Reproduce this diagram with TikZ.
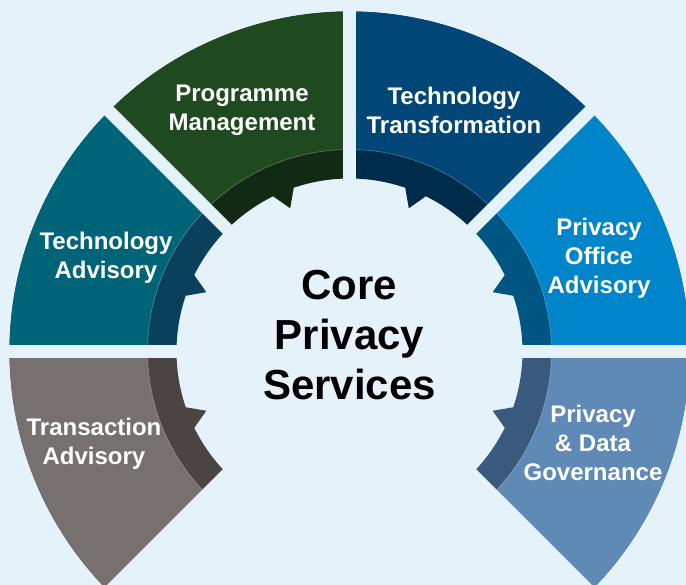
\documentclass[tikz,border=0pt]{standalone}
\usepackage{fontspec}
\setmainfont{Liberation Sans}
\usepackage{xcolor}

\definecolor{bgblue}{HTML}{E6F2F9}
\definecolor{progmain}{HTML}{1F4A20}
\definecolor{progdark}{HTML}{122A13}
\definecolor{tranmain}{HTML}{004677}
\definecolor{trandark}{HTML}{002C4B}
\definecolor{tadvmain}{HTML}{006479}
\definecolor{tadvdark}{HTML}{0A415A}
\definecolor{poamain}{HTML}{0084CA}
\definecolor{poadark}{HTML}{005683}
\definecolor{trxmain}{HTML}{76706E}
\definecolor{trxdark}{HTML}{4A4543}
\definecolor{pdgmain}{HTML}{5F8AB5}
\definecolor{pdgdark}{HTML}{3A5A7D}

\begin{document}
\begin{tikzpicture}[x=1pt,y=1pt]
      \tikzstyle{seglabel}=[text=white,align=center,inner sep=0pt,font=\bfseries\fontsize{24}{29}\selectfont]
      \tikzstyle{corelabel}=[text=black,align=center,inner sep=0pt,font=\bfseries\fontsize{42}{50}\selectfont]
      \tikzstyle{gapline}=[bgblue,line width=12.5pt]
      \tikzstyle{seam}=[white,opacity=0.3,line width=0.6pt]
      \useasboundingbox (-349.5,-233.5) rectangle (336.5,351.5);
      \fill [bgblue] (-349.5,-233.5) rectangle (336.5,351.5);
      \clip (-349.5,-233.5) rectangle (336.5,351.5);
      % Programme Management
      \fill [progdark] (135:340) arc (135:90:340) -- (90:173) arc (90:108.8:173) -- (112.5:155) -- (116.2:173) arc (116.2:135:173) -- cycle;
      \fill [progmain] (135:340) arc (135:90:340) -- (90:202) arc (90:135:202) -- cycle;
      \draw [seam] (135:202) arc (135:90:202);
      % Technology Transformation
      \fill [trandark] (90:340) arc (90:45:340) -- (45:173) arc (45:63.8:173) -- (67.5:155) -- (71.2:173) arc (71.2:90:173) -- cycle;
      \fill [tranmain] (90:340) arc (90:45:340) -- (45:202) arc (45:90:202) -- cycle;
      \draw [seam] (90:202) arc (90:45:202);
      % Technology Advisory
      \fill [tadvdark] (180:340) arc (180:135:340) -- (135:173) arc (135:153.8:173) -- (157.5:155) -- (161.2:173) arc (161.2:180:173) -- cycle;
      \fill [tadvmain] (180:340) arc (180:135:340) -- (135:202) arc (135:180:202) -- cycle;
      \draw [seam] (180:202) arc (180:135:202);
      % Privacy Office Advisory
      \fill [poadark] (45:340) arc (45:0:340) -- (0:173) arc (0:18.8:173) -- (22.5:155) -- (26.2:173) arc (26.2:45:173) -- cycle;
      \fill [poamain] (45:340) arc (45:0:340) -- (0:202) arc (0:45:202) -- cycle;
      \draw [seam] (45:202) arc (45:0:202);
      % Transaction Advisory
      \fill [trxdark] (225:340) arc (225:180:340) -- (180:173) arc (180:198.8:173) -- (202.5:155) -- (206.2:173) arc (206.2:225:173) -- cycle;
      \fill [trxmain] (225:340) arc (225:180:340) -- (180:202) arc (180:225:202) -- cycle;
      \draw [seam] (225:202) arc (225:180:202);
      % Privacy & Data Governance
      \fill [pdgdark] (0:340) arc (0:-45:340) -- (-45:173) arc (-45:-26.2:173) -- (-22.5:155) -- (-18.8:173) arc (-18.8:0:173) -- cycle;
      \fill [pdgmain] (0:340) arc (0:-45:340) -- (-45:202) arc (-45:0:202) -- cycle;
      \draw [seam] (0:202) arc (0:-45:202);
      % gaps between the segments
      \draw [gapline] (0:150) -- (0:420);
      \draw [gapline] (45:150) -- (45:420);
      \draw [gapline] (90:150) -- (90:420);
      \draw [gapline] (135:150) -- (135:420);
      \draw [gapline] (180:150) -- (180:420);
      \draw [gapline] (225:150) -- (225:420);
      \draw [gapline] (-45:150) -- (-45:420);
      % labels
      \node [seglabel] (prog) at (-107.5,241.5) {Programme\\Management};
      \node [seglabel] (tran) at (104.5,241) {Technology\\Transformation};
      \node [seglabel] (tadv) at (-243.5,93.5) {Technology\\Advisory};
      \node [seglabel] (poa) at (249.5,93.5) {Privacy\\Office\\Advisory};
      \node [seglabel] (trx) at (-255.5,-92) {Transaction\\Advisory};
      \node [seglabel] (pdg) at (243.5,-91) {Privacy\\\& Data\\Governance};
      \node [corelabel] (core) at (0,16) {Core\\Privacy\\Services};
    \end{tikzpicture}
\end{document}
